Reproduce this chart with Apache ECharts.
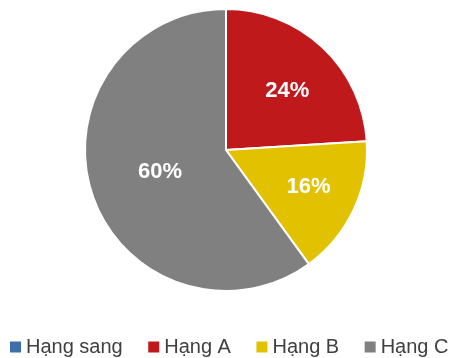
<!DOCTYPE html>
<html>
<head>
<meta charset="utf-8">
<script src="https://cdn.jsdelivr.net/npm/echarts@6/dist/echarts.min.js"></script>
<style>
  html, body { margin: 0; padding: 0; background: #fff; }
  #chart { width: 450px; height: 358px; }
</style>
</head>
<body>
<div id="chart"></div>
<script>
// Share of each class (percent)
const categories = ['Hạng sang', 'Hạng A', 'Hạng B', 'Hạng C'];
const shares = [0, 24, 16, 60];
const colors = ['#3E6FA8', '#C0191C', '#E2C200', '#808080'];
// Fine placement of the in-slice labels
const labelOffsets = [[0, 0], [11, -5], [16, 6], [4, -1]];

const chart = echarts.init(document.getElementById('chart'), null, { renderer: 'canvas' });

const data = categories.map((name, i) => ({
  name,
  value: shares[i],
  itemStyle: { color: colors[i] },
  label: { show: shares[i] > 0, offset: labelOffsets[i] }
}));

chart.setOption({
  animation: false,
  legend: {
    top: 337,
    left: 10,
    width: 445,
    padding: 0,
    icon: 'rect',
    itemWidth: 11,
    itemHeight: 11,
    itemGap: 25.5,
    itemStyle: { borderWidth: 0 },
    textStyle: { fontFamily: 'Liberation Sans, Arial, sans-serif', fontSize: 20, color: '#404040' },
    data: categories
  },
  series: [{
    type: 'pie',
    center: [226, 150],
    radius: [0, 141],
    startAngle: 90,
    clockwise: true,
    avoidLabelOverlap: false,
    itemStyle: { borderColor: '#fff', borderWidth: 2 },
    label: {
      position: 'inside',
      formatter: '{c}%',
      color: '#fff',
      fontFamily: 'Liberation Sans, Arial, sans-serif',
      fontWeight: 'bold',
      fontSize: 22
    },
    labelLine: { show: false },
    emphasis: { disabled: true },
    data
  }]
});
</script>
</body>
</html>
